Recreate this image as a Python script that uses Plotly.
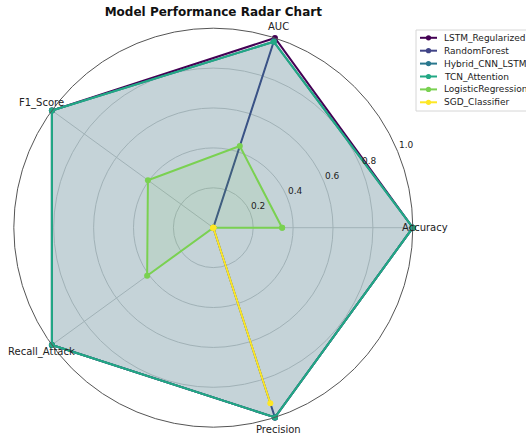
import math
import plotly.graph_objects as go

# Metric axes, in drawing order (counter-clockwise from 3 o'clock)
metrics = ["Accuracy", "AUC", "F1_Score", "Recall_Attack", "Precision"]
metric_angles = [0, 72, 144, 216, 288]

# Scores per model (same order as metrics)
lstm_regularized = [1.00, 1.00, 1.00, 1.00, 1.00]
random_forest = [0.00, 0.985, 0.00, 0.00, 1.00]
hybrid_cnn_lstm = [1.00, 0.98, 1.00, 1.00, 1.00]
tcn_attention = [1.00, 0.98, 1.00, 1.00, 1.00]
logistic_regression = [0.345, 0.43, 0.405, 0.41, 0.00]
sgd_classifier = [0.00, 0.00, 0.00, 0.00, 0.925]

model_names = ["LSTM_Regularized", "RandomForest", "Hybrid_CNN_LSTM",
               "TCN_Attention", "LogisticRegression", "SGD_Classifier"]
model_scores = [lstm_regularized, random_forest, hybrid_cnn_lstm,
                tcn_attention, logistic_regression, sgd_classifier]

# viridis, sampled evenly for six models
colors = ["#440154", "#414487", "#2a788e", "#22a884", "#7ad151", "#fde725"]

radial_ticks = [0.2, 0.4, 0.6, 0.8, 1.0]
radial_tick_text = ["0.2", "0.4", "0.6", "0.8", "1.0"]

W, H = 526, 435
# polar area (pixels): centre and outer radius
CX, CY, R = 213.3, 227.7, 199.5
LABEL_R = 1.062      # metric names sit just outside the outer ring
RLABEL_ANGLE = 22.5  # ray along which the radial tick labels are written


def rgba(hex_color, alpha):
    h = hex_color.lstrip("#")
    r, g, b = int(h[0:2], 16), int(h[2:4], 16), int(h[4:6], 16)
    return f"rgba({r},{g},{b},{alpha})"


def px(x):
    return x / W


def py(y):
    return 1 - y / H


fig = go.Figure()

closed_angles = metric_angles + metric_angles[:1]
for name, scores, color in zip(model_names, model_scores, colors):
    fig.add_trace(go.Scatterpolar(
        r=scores + scores[:1],
        theta=closed_angles,
        name=name,
        mode="lines+markers",
        line=dict(color=color, width=2),
        marker=dict(color=color, size=6),
        fill="toself",
        fillcolor=rgba(color, 0.1),
        showlegend=False,
    ))

annotations = []
shapes = []

# metric names around the rim
for name, ang in zip(metrics, metric_angles):
    a = math.radians(ang)
    annotations.append(dict(
        text=name, xref="paper", yref="paper",
        x=px(CX + LABEL_R * R * math.cos(a)),
        y=py(CY - LABEL_R * R * math.sin(a)),
        xanchor="center", yanchor="middle", showarrow=False,
        font=dict(family="DejaVu Sans", size=10, color="#222222"),
    ))

# radial tick labels, anchored bottom-left on the label ray
ra = math.radians(RLABEL_ANGLE)
for val, txt in zip(radial_ticks, radial_tick_text):
    annotations.append(dict(
        text=txt, xref="paper", yref="paper",
        x=px(CX + val * R * math.cos(ra)),
        y=py(CY - val * R * math.sin(ra)),
        xanchor="left", yanchor="bottom", showarrow=False,
        borderpad=0,
        font=dict(family="DejaVu Sans", size=9, color="#222222"),
    ))

# legend box
LEG_LEFT, LEG_TOP, LEG_BOTTOM = 416, 30, 111
ROW0, ROW_STEP = 37.8, 12.9
shapes.append(dict(
    type="rect", xref="paper", yref="paper",
    x0=px(LEG_LEFT), x1=px(W + 20), y0=py(LEG_BOTTOM), y1=py(LEG_TOP),
    line=dict(color="#d6d6d6", width=1), fillcolor="white", layer="above",
))
for i, (name, color) in enumerate(zip(model_names, colors)):
    yy = ROW0 + i * ROW_STEP
    shapes.append(dict(
        type="line", xref="paper", yref="paper",
        x0=px(420), x1=px(437), y0=py(yy), y1=py(yy),
        line=dict(color=color, width=2), layer="above",
    ))
    shapes.append(dict(
        type="circle", xref="paper", yref="paper",
        x0=px(428.5 - 2.6), x1=px(428.5 + 2.6),
        y0=py(yy + 2.6), y1=py(yy - 2.6),
        line=dict(color=color, width=0), fillcolor=color, layer="above",
    ))
    annotations.append(dict(
        text=name, xref="paper", yref="paper",
        x=px(441.5), y=py(yy), xanchor="left", yanchor="middle",
        showarrow=False,
        font=dict(family="DejaVu Sans", size=9, color="#222222"),
    ))

fig.update_layout(
    width=W,
    height=H,
    margin=dict(l=0, r=0, t=0, b=0),
    paper_bgcolor="white",
    font=dict(family="DejaVu Sans", color="#222222"),
    showlegend=False,
    title=dict(
        text="<b>Model Performance Radar Chart</b>",
        x=px(CX), xanchor="center",
        y=py(12), yanchor="middle",
        font=dict(family="DejaVu Sans", size=12, color="#111111"),
    ),
    polar=dict(
        domain=dict(x=[px(CX - R), px(CX + R)], y=[py(CY + R), py(CY - R)]),
        bgcolor="white",
        angularaxis=dict(
            thetaunit="degrees",
            rotation=0,
            direction="counterclockwise",
            tickmode="array",
            tickvals=metric_angles,
            ticktext=metrics,
            showticklabels=False,
            ticks="",
            showline=True,
            linecolor="#555555",
            linewidth=1,
            gridcolor="#d0d0d0",
            gridwidth=0.8,
        ),
        radialaxis=dict(
            range=[0, 1],
            angle=RLABEL_ANGLE,
            tickmode="array",
            tickvals=radial_ticks,
            ticktext=radial_tick_text,
            showticklabels=False,
            ticks="",
            showline=False,
            gridcolor="#d0d0d0",
            gridwidth=0.8,
        ),
    ),
    annotations=annotations,
    shapes=shapes,
)

fig.write_html("out.html")
